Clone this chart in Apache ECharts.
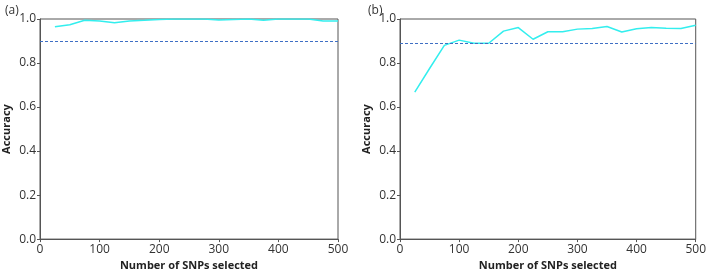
<!DOCTYPE html>
<html>
<head>
<meta charset="utf-8">
<script src="https://cdn.jsdelivr.net/npm/echarts@6/dist/echarts.min.js"></script>
<style>
  html, body { margin: 0; padding: 0; background: #fff; }
  #main { width: 709px; height: 276px; }
</style>
</head>
<body>
<div id="main"></div>
<script>
// number of SNPs selected
var snps = [25, 50, 75, 100, 125, 150, 175, 200, 225, 250, 275, 300, 325, 350, 375, 400, 425, 450, 475, 500];
// panel (a)
var accA = [0.965, 0.974, 0.994, 0.991, 0.983, 0.991, 0.994, 0.998, 1.0, 1.0, 1.0, 0.995, 0.998, 1.0, 0.994, 1.0, 1.0, 1.0, 0.991, 0.991];
var baseA = 0.895;
// panel (b)
var accB = [0.668, 0.775, 0.88, 0.904, 0.89, 0.89, 0.945, 0.961, 0.908, 0.942, 0.942, 0.954, 0.957, 0.966, 0.941, 0.956, 0.961, 0.958, 0.957, 0.972];
var baseB = 0.886;
var panelLabels = ['(a)', '(b)'];

var myChart = echarts.init(document.getElementById('main'));
var font = 'Open Sans';

function xAx(i) {
  return {
    type: 'value', gridIndex: i, min: 0, max: 500, interval: 100,
    name: 'Number of SNPs selected', nameLocation: 'middle', nameGap: 20,
    nameTextStyle: { fontFamily: font, fontSize: 11, fontWeight: 'bold', color: '#222' },
    axisLine: { show: true, lineStyle: { color: '#555' } },
    axisTick: { show: true, length: 3, lineStyle: { color: '#555' } },
    axisLabel: { fontFamily: font, fontSize: 12, color: '#333', margin: 4 },
    splitLine: { show: false }
  };
}
function yAx(i) {
  return {
    type: 'value', gridIndex: i, min: 0, max: 1, interval: 0.2,
    name: 'Accuracy', nameLocation: 'middle', nameGap: 28,
    nameTextStyle: { fontFamily: font, fontSize: 11, fontWeight: 'bold', color: '#222' },
    axisLine: { show: true, lineStyle: { color: '#555' } },
    axisTick: { show: true, length: 3, lineStyle: { color: '#555' } },
    axisLabel: { fontFamily: font, fontSize: 12, color: '#333', margin: 4,
      formatter: function (v) { return v.toFixed(1); } },
    splitLine: { show: false }
  };
}
function lineSeries(i, vals, base) {
  var d = [];
  for (var k = 0; k < snps.length; k++) d.push([snps[k], vals[k]]);
  return {
    type: 'line', xAxisIndex: i, yAxisIndex: i, data: d,
    showSymbol: false, symbol: 'none',
    lineStyle: { color: '#33eeee', width: 1.5 },
    markLine: {
      silent: true, symbol: 'none', label: { show: false },
      lineStyle: { color: '#3f6fc4', type: [3, 2], width: 1, opacity: 1 },
      emphasis: { disabled: true },
      data: [{ yAxis: base }]
    }
  };
}

var option = {
  animation: false,
  title: [
    { text: panelLabels[0], left: 0, top: 0, textStyle: { fontFamily: font, fontSize: 12, fontWeight: 'normal', color: '#333' } },
    { text: panelLabels[1], left: 363, top: 0, textStyle: { fontFamily: font, fontSize: 12, fontWeight: 'normal', color: '#333' } }
  ],
  grid: [
    { left: 37, width: 301, top: 19, height: 225, show: true, borderColor: '#555', borderWidth: 1, backgroundColor: 'transparent' },
    { left: 400, width: 301, top: 19, height: 225, show: true, borderColor: '#555', borderWidth: 1, backgroundColor: 'transparent' }
  ],
  xAxis: [xAx(0), xAx(1)],
  yAxis: [yAx(0), yAx(1)],
  series: [lineSeries(0, accA, baseA), lineSeries(1, accB, baseB)]
};
myChart.setOption(option);
</script>
</body>
</html>
